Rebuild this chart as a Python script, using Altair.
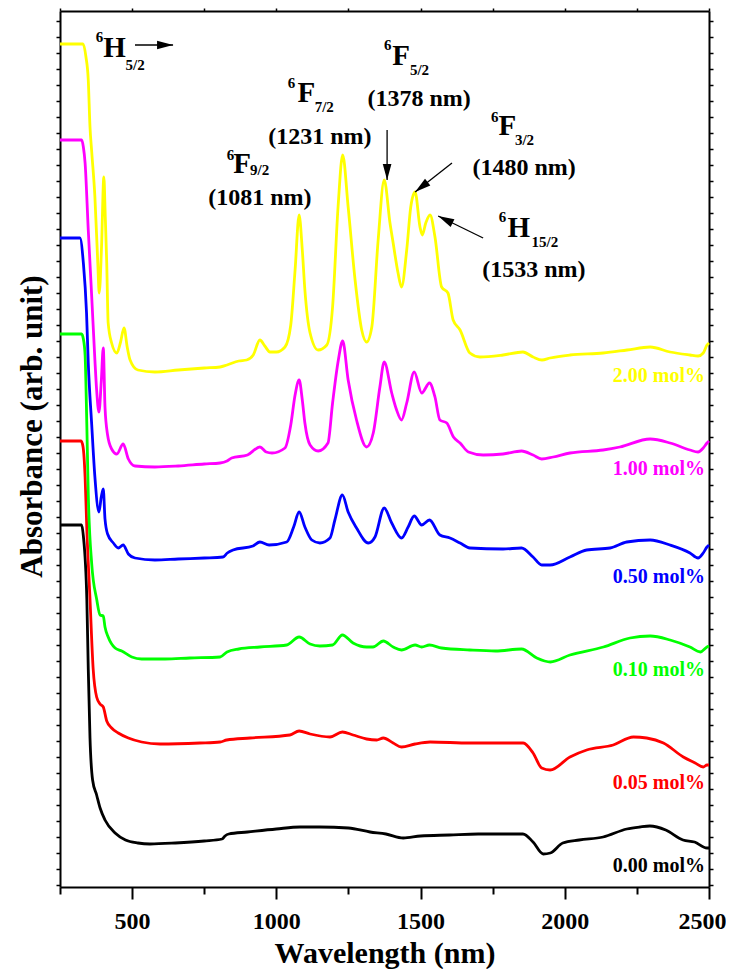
import altair as alt
import pandas as pd

# ---------------- data (wavelength nm, absorbance arb. units incl. offset) ----------------
NAMES = ["0.00 mol%", "0.05 mol%", "0.10 mol%", "0.50 mol%", "1.00 mol%", "2.00 mol%"]
COLORS = ["#000000", "#FF0000", "#00FF00", "#0000FF", "#FF00FF", "#FFFF00"]

BLACK = [(250,362),(325,362),(331,351),(343,288),(348,218),(354,149),(363,107),(377,92),(389,79),(406,67),
         (441,54),(477,47),(520,44),(562,43),(650,44),(750,46),(812,48),(822,51),(835,53),(900,55),(1000,58),
         (1082,60),(1150,60),(1250,59),(1325,55),(1380,53),(1440,49),(1500,51),(1600,52),(1700,53),(1800,53),
         (1855,53),(1890,45),(1925,33),(1950,34),(1993,44),(2050,47),(2133,50),(2215,58),(2260,60),(2295,61),
         (2350,57),(2410,47),(2450,45),(2493,39),(2500,39)]

RED = [(250,446),(323,446),(330,440),(337,410),(343,358),(354,288),(365,218),(377,190),(389,183),(400,180),
       (412,166),(429,159),(452,154),(487,149),(533,145),(597,143),(735,144),(805,145),(828,147),(909,149),
       (1047,152),(1079,156),(1117,153),(1186,150),(1229,155),(1266,152),(1313,148),(1348,147),(1371,149),
       (1405,144),(1434,140),(1481,143),(1533,145),(1671,144),(1856,144),(1890,134),(1920,119),(1949,117),
       (2018,130),(2076,137),(2168,142),(2238,150),(2284,149),(2342,144),(2411,130),(2452,124),(2480,120),
       (2493,122),(2500,122)]

GREEN = [(250,553),(325,553),(331,548),(337,532),(343,462),(348,393),(360,323),(377,288),(389,272),(400,271),
         (406,260),(417,250),(441,239),(464,236),(499,230),(533,228),(614,228),(700,229),(805,230),(829,235),
         (870,238),(943,240),(1036,242),(1079,250),(1117,243),(1151,241),(1195,242),(1229,252),(1266,244),
         (1313,240),(1335,240),(1371,246),(1405,240),(1434,237),(1481,242),(1504,240),(1531,242),(1573,239),
         (1671,237),(1760,236),(1850,238),(1903,229),(1930,226),(1950,225),(2018,232),(2134,240),(2226,249),
         (2296,251),(2365,247),(2434,240),(2470,235),(2493,240),(2500,241)]

BLUE = [(250,649),(319,649),(331,624),(342,574),(348,524),(360,462),(371,410),(385,375),(393,390),(400,398),
        (406,368),(415,353),(435,344),(452,339),(469,342),(487,333),(510,329),(579,327),(660,328),(750,329),
        (815,330),(830,334),(850,337),(919,341),(943,345),(975,342),(1036,345),(1060,360),(1079,375),(1099,360),
        (1123,347),(1151,344),(1186,349),(1203,367),(1229,392),(1249,375),(1278,359),(1319,344),(1342,350),
        (1374,379),(1400,364),(1434,349),(1457,360),(1478,371),(1504,362),(1531,367),(1567,352),(1602,349),
        (1637,344),(1671,339),(1786,338),(1850,339),(1890,330),(1920,322),(1949,322),(2018,330),(2076,337),
        (2157,339),(2215,345),(2296,347),(2365,342),(2434,334),(2462,329),(2480,334),(2493,340),(2500,342)]

MAGENTA = [(250,747),(325,747),(331,740),(337,724),(348,657),(360,590),(371,527),(377,497),(385,475),(393,505),
           (400,539),(406,480),(415,452),(429,438),(447,433),(469,443),(487,428),(510,421),(579,420),(660,421),
           (750,423),(805,424),(829,426),(845,429),(900,432),(943,440),(965,435),(985,434),(1030,439),(1050,462),
           (1065,492),(1079,507),(1090,487),(1099,464),(1117,442),(1145,436),(1179,444),(1195,484),(1215,527),
           (1230,546),(1249,507),(1278,467),(1313,440),(1336,454),(1359,500),(1374,525),(1400,494),(1417,477),
           (1434,467),(1452,484),(1478,515),(1504,494),(1531,504),(1550,490),(1567,467),(1591,464),(1614,450),
           (1637,444),(1666,435),(1717,432),(1786,433),(1850,436),(1890,432),(1920,428),(1960,430),(2018,434),
           (2133,437),(2191,440),(2296,448),(2365,444),(2434,437),(2462,435),(2480,439),(2493,444),(2500,446)]

YELLOW = [(250,843),(330,843),(340,830),(348,807),(354,760),(360,735),(371,690),(381,624),(386,594),(394,640),
          (402,710),(407,670),(412,624),(417,564),(429,544),(447,534),(460,545),(472,559),(483,540),(493,527),
          (520,517),(579,515),(660,517),(750,519),(805,520),(829,522),(870,526),(897,527),(920,532),(943,547),
          (960,541),(978,535),(1000,535),(1030,540),(1050,562),(1065,617),(1079,672),(1090,637),(1099,597),
          (1117,554),(1145,537),(1175,542),(1195,580),(1214,680),(1230,732),(1249,680),(1273,607),(1296,557),
          (1313,545),(1331,560),(1353,647),(1374,707),(1394,664),(1405,644),(1422,614),(1434,600),(1452,637),
          (1466,680),(1481,695),(1498,660),(1506,652),(1518,664),(1533,672),(1550,650),(1573,600),(1595,594),
          (1613,567),(1637,557),(1671,534),(1706,530),(1786,532),(1855,535),(1890,530),(1921,527),(1949,529),
          (2018,532),(2133,534),(2216,537),(2296,540),(2365,535),(2434,532),(2462,531),(2480,534),(2493,542),
          (2500,544)]

# concentration label anchor (wavelength, absorbance)
CONC_POS = [(2486, 15), (2486, 98), (2486, 211), (2486, 304), (2486, 412), (2486, 505)]

# term symbol pieces: text, wavelength, absorbance, font size
PIECES = [
    ("6", 374, 845, 15), ("H", 400, 830, 29), ("5/2", 477, 817, 15),
    ("6", 828, 727, 15), ("F", 851, 714, 29), ("9/2", 909, 712, 15),
    ("6", 1040, 799, 15), ("F", 1073, 785, 29), ("7/2", 1133, 775, 15),
    ("6", 1373, 837, 15), ("F", 1402, 822, 29), ("5/2", 1463, 812, 15),
    ("6", 1744, 765, 15), ("F", 1770, 752, 29), ("3/2", 1827, 742, 15),
    ("6", 1771, 665, 15), ("H", 1801, 650, 29), ("15/2", 1885, 640, 15),
]
PEAK_TEXTS = [("(1081 nm)", 943, 682), ("(1231 nm)", 1151, 743), ("(1378 nm)", 1495, 781),
              ("(1480 nm)", 1859, 712), ("(1533 nm)", 1893, 610)]
# arrows: start wl, start ab, tip wl, tip ab, head angle
ARROWS = [(510, 842, 642, 842, 90), (1384, 757, 1384, 707, 180),
          (1609, 724, 1481, 695, 232), (1717, 649, 1561, 671, 296)]

# ---------------- tables ----------------
rows = []
for name, pts in zip(NAMES, [BLACK, RED, GREEN, BLUE, MAGENTA, YELLOW]):
    for w, a in pts:
        rows.append({"series": name, "wl": w, "ab": a})
df = pd.DataFrame(rows)
conc_df = pd.DataFrame([{"series": n, "wl": p[0], "ab": p[1]} for n, p in zip(NAMES, CONC_POS)])
pieces_df = pd.DataFrame(PIECES, columns=["t", "wl", "ab", "fs"])
peaks_df = pd.DataFrame(PEAK_TEXTS, columns=["t", "wl", "ab"])
arrows_df = pd.DataFrame(ARROWS, columns=["wl", "ab", "wl2", "ab2", "ang"])

FONT = "Liberation Serif"
xs = alt.Scale(domain=[250, 2500], nice=False, zero=False)
ys = alt.Scale(domain=[0, 876], nice=False, zero=False)
cs = alt.Scale(domain=NAMES, range=COLORS)
ytick_vals = list(range(2, 876, 16))
xtick_vals = list(range(250, 2501, 250))

lines = alt.Chart(df).mark_line(strokeWidth=2.8, interpolate="monotone").encode(
    x=alt.X("wl:Q", scale=xs, axis=alt.Axis(
        orient="bottom", values=xtick_vals, grid=False, format="d",
        labelExpr="datum.value % 500 === 0 ? datum.label : ''",
        tickSize={"condition": {"test": "datum.value % 500 === 0", "value": 12}, "value": 7},
        labelOffset={"condition": {"test": "datum.value === 2500", "value": -7}, "value": 0},
        tickWidth=2, tickColor="black", domainColor="black", domainWidth=2,
        labelFont=FONT, labelFontWeight="bold", labelFontSize=24, labelColor="black",
        labelBaseline="alphabetic", labelPadding=29, labelFlush=False,
        title="Wavelength (nm)", titleFont=FONT, titleFontWeight="bold", titleFontSize=30,
        titleColor="black", titleBaseline="alphabetic", titleY=75)),
    y=alt.Y("ab:Q", scale=ys, axis=alt.Axis(
        orient="left", values=ytick_vals, grid=False, labels=False,
        tickSize=4, tickWidth=1.5, tickColor="black", domainColor="black", domainWidth=2,
        title="Absorbance (arb. unit)", titleFont=FONT, titleFontWeight="bold", titleFontSize=31,
        titleColor="black", titleBaseline="alphabetic", titleX=-19, titleY=415)),
    color=alt.Color("series:N", scale=cs, legend=None),
)

conc = alt.Chart(conc_df).mark_text(font=FONT, fontWeight="bold", fontSize=20, align="right",
                                    baseline="alphabetic").encode(
    x=alt.X("wl:Q", scale=xs, axis=alt.Axis(
        orient="top", values=xtick_vals, grid=False, labels=False, title=None,
        tickSize=3, tickWidth=1.5, tickColor="black", domainColor="black", domainWidth=2)),
    y=alt.Y("ab:Q", scale=ys, axis=alt.Axis(
        orient="right", values=ytick_vals, grid=False, labels=False, title=None,
        tickSize=4, tickWidth=1.5, tickColor="black", domainColor="black", domainWidth=2)),
    text="series:N",
    color=alt.Color("series:N", scale=cs, legend=None),
)

pieces = alt.Chart(pieces_df).mark_text(font=FONT, fontWeight="bold", align="left",
                                        baseline="alphabetic", color="black").encode(
    x=alt.X("wl:Q", scale=xs, axis=None),
    y=alt.Y("ab:Q", scale=ys, axis=None),
    text="t:N",
    size=alt.Size("fs:Q", scale=None, legend=None),
)

peaks = alt.Chart(peaks_df).mark_text(font=FONT, fontWeight="bold", fontSize=24, align="center",
                                      baseline="alphabetic", color="black").encode(
    x=alt.X("wl:Q", scale=xs, axis=None),
    y=alt.Y("ab:Q", scale=ys, axis=None),
    text="t:N",
)

arrow_lines = alt.Chart(arrows_df).mark_rule(color="black", strokeWidth=1.3).encode(
    x=alt.X("wl:Q", scale=xs, axis=None),
    y=alt.Y("ab:Q", scale=ys, axis=None),
    x2="wl2:Q",
    y2="ab2:Q",
)

arrow_heads = alt.Chart(arrows_df).mark_point(
    shape="M0,0L-0.27,1L0.27,1Z", filled=True, size=1024, color="black", opacity=1, strokeWidth=0
).encode(
    x=alt.X("wl2:Q", scale=xs, axis=None),
    y=alt.Y("ab2:Q", scale=ys, axis=None),
    angle=alt.Angle("ang:Q", scale=None),
)

chart = alt.layer(lines, conc, pieces, peaks, arrow_lines, arrow_heads).resolve_axis(
    x="independent", y="independent"
).properties(
    width=649, height=876,
    autosize=alt.AutoSizeParams(type="none"),
    padding={"left": 52, "top": 3, "right": 17, "bottom": 82},
).configure_view(stroke=None).configure(background="white")

chart.save("out.html", embed_options={"renderer": "svg", "actions": False})
